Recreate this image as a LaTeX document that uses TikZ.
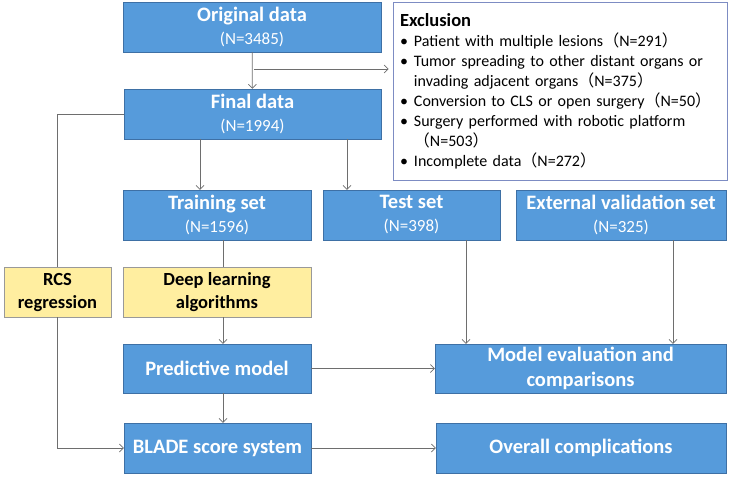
\documentclass[tikz,border=0pt]{standalone}
\usepackage{fontspec}
\setmainfont{Carlito}
\newfontfamily\cjk{Noto Sans CJK SC}
\usetikzlibrary{arrows.meta}

\definecolor{boxblue}{RGB}{86,155,219}
\definecolor{boxedge}{RGB}{62,112,165}
\definecolor{softyellow}{RGB}{255,238,160}
\definecolor{exedge}{RGB}{125,140,195}
\definecolor{linegray}{RGB}{110,110,110}

\newcommand{\fp}[1]{{\cjk （}#1{\cjk ）}}
\newcommand{\nline}[1]{{\normalfont\fontsize{17}{22}\selectfont #1}}

\tikzset{
  bluebox/.style={draw=boxedge, fill=boxblue, text=white, font=\bfseries\fontsize{20.5}{23}\selectfont,
    align=center, inner sep=0pt, minimum height=50pt},
  yellowbox/.style={draw=gray!80, fill=softyellow, text=black, font=\bfseries\fontsize{18.5}{23}\selectfont,
    align=center, inner sep=0pt, minimum height=50pt},
  arr/.style={draw=linegray, line width=0.7pt, -{Straight Barb[length=4pt,width=8pt]}},
  conn/.style={draw=linegray, line width=0.7pt}
}

\begin{document}
\begin{tikzpicture}[x=1pt,y=-1pt]
                \useasboundingbox (0,0) rectangle (730,476);
                \node[bluebox, minimum width=258pt] (orig) at (252,27) {Original data\\ \nline{(N=3485)}};
                \node[bluebox, minimum width=257pt] (final) at (252.5,114) {Final data\\ \nline{(N=1994)}};
                \node[draw=exedge, fill=white, line width=0.8pt, minimum width=334pt, minimum height=178pt,
                      text width=320pt, align=left, inner sep=0pt,
                      font=\fontsize{16}{20}\selectfont] (excl) at (560,91) {%
                  {\bfseries\fontsize{18.5}{20}\selectfont Exclusion}\\
                  \textbullet\hspace{6pt}Patient with multiple lesions\fp{N=291}\\
                  \textbullet\hspace{6pt}Tumor spreading to other distant organs or\\
                  \phantom{\textbullet}\hspace{6pt}invading adjacent organs\fp{N=375}\\
                  \textbullet\hspace{6pt}Conversion to CLS or open surgery\fp{N=50}\\
                  \textbullet\hspace{6pt}Surgery performed with robotic platform\\
                  \phantom{\textbullet}\hspace{6pt}\fp{N=503}\\
                  \textbullet\hspace{6pt}Incomplete data\fp{N=272}};
                \node[bluebox, minimum width=188pt] (train) at (217,215) {Training set\\ \nline{(N=1596)}};
                \node[bluebox, minimum width=177pt] (test) at (411.5,215) {Test set\\ \nline{(N=398)}};
                \node[bluebox, minimum width=210pt] (ext) at (621,215) {External validation set\\ \nline{(N=325)}};
                \node[yellowbox, minimum width=107pt] (rcs) at (57.5,292) {RCS\\ regression};
                \node[yellowbox, minimum width=188pt] (deep) at (217,292) {Deep learning\\ algorithms};
                \node[bluebox, minimum width=188pt, minimum height=49pt] (pred) at (217,368.5) {Predictive model};
                \node[bluebox, minimum width=291pt, minimum height=49pt, font=\bfseries\fontsize{20.5}{25}\selectfont] (eval) at (580.5,368.5) {Model evaluation and\\ comparisons};
                \node[bluebox, minimum width=187pt] (blade) at (217.5,448) {BLADE score system};
                \node[bluebox, minimum width=290pt] (overall) at (581,448) {Overall complications};
                % exclusion branch
                \coordinate (cut) at (254,69);
                \draw[arr] (orig) -- (final);
                \draw[arr, shorten >=4pt] (cut) -- (cut -| excl.west);
                % split of the data
                \draw[arr] (200,0 |- final.south) -- (200,0 |- train.north);
                \draw[arr] (347,0 |- final.south) -- (347,0 |- test.north);
                \draw[conn] (final.west) -| (rcs.north);
                \draw[arr] (rcs.south) |- (blade.west);
                \draw[conn] (223,0 |- train.south) -- (223,0 |- deep.north);
                \draw[arr] (223,0 |- deep.south) -- (223,0 |- pred.north);
                \draw[arr] (223,0 |- pred.south) -- (223,0 |- blade.north);
                \draw[arr] (pred) -- (eval);
                \draw[arr] (466,0 |- test.south) -- (466,0 |- eval.north);
                \draw[arr] (673,0 |- ext.south) -- (673,0 |- eval.north);
                \draw[arr] (blade) -- (overall);
                \end{tikzpicture}
\end{document}
